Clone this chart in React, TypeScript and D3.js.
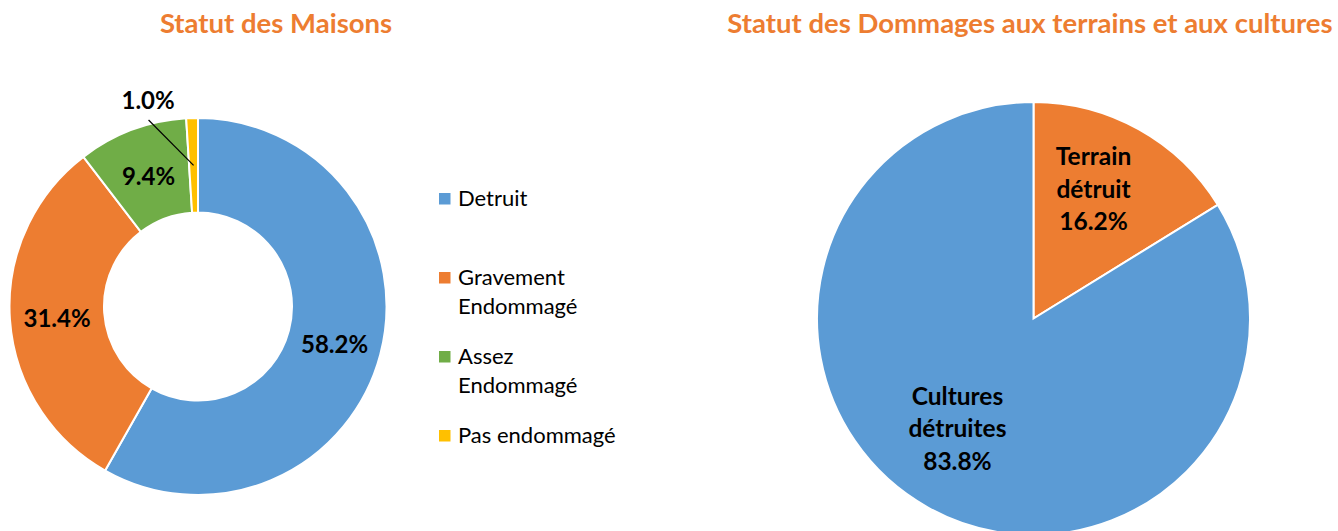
import React from "react";
import * as d3 from "d3";

const houseCategories = ["Detruit", "Gravement Endommagé", "Assez Endommagé", "Pas endommagé"];
const houseValues = [58.2, 31.4, 9.4, 1.0];
const houseColors = ["#5B9BD5", "#ED7D31", "#70AD47", "#FFC000"];
const legendLines = [["Detruit"], ["Gravement", "Endommagé"], ["Assez", "Endommagé"], ["Pas endommagé"]];

const landCategories = [["Terrain", "détruit"], ["Cultures", "détruites"]];
const landValues = [16.2, 83.8];
const landColors = ["#ED7D31", "#5B9BD5"];

const FONT = "Lato, 'Open Sans', sans-serif";

export default function App() {
  const W = 1338, H = 531;
  // donut
  const dcx = 198, dcy = 306.5, dR = 188.5, dr = 94;
  const pie = d3.pie<number>().sort(null).value((d) => d);
  const dArcs = pie(houseValues);
  const dArc = d3.arc<d3.PieArcDatum<number>>().innerRadius(dr).outerRadius(dR);
  // pie
  const pcx = 1033.5, pcy = 318.5, pR = 216.5;
  const pArcs = pie(landValues);
  const pArc = d3.arc<d3.PieArcDatum<number>>().innerRadius(0).outerRadius(pR);
  const pLabelArc = d3.arc<d3.PieArcDatum<number>>().innerRadius(pR * 0.65).outerRadius(pR * 0.65);
  const pNudge = [[-8.5, -6.5], [-7.5, -12.5]];

  const legendY = [199, 278, 357, 436];

  return (
    <svg width={W} height={H} style={{ position: "absolute", left: 0, top: 0, background: "#fff" }} fontFamily={FONT}>
      <text x={276} y={33} textAnchor="middle" fontSize={27.5} fontWeight="bold" fill="#ED7D31">Statut des Maisons</text>
      <text x={1030} y={33} textAnchor="middle" fontSize={27.5} fontWeight="bold" fill="#ED7D31">Statut des Dommages aux terrains et aux cultures</text>

      <g transform={`translate(${dcx},${dcy})`}>
        {dArcs.map((a, i) => (
          <path key={i} d={dArc(a) || ""} fill={houseColors[i]} stroke="#fff" strokeWidth={2} />
        ))}
        {dArcs.map((a, i) => {
          const [x, y] = dArc.centroid(a);
          if (i === 3) {
            const lx = x - 45.5, ly = -dR - 9;
            return (
              <g key={i}>
                <line x1={lx + 0.5} y1={ly + 11} x2={x} y2={y} stroke="#000" strokeWidth={1.2} />
                <text x={lx} y={ly} textAnchor="middle" fontSize={24} fontWeight="bold" fill="#000">{houseValues[i].toFixed(1)}%</text>
              </g>
            );
          }
          return (
            <text key={i} x={x} y={y + 10.5} textAnchor="middle" fontSize={24} fontWeight="bold" fill="#000">{houseValues[i].toFixed(1)}%</text>
          );
        })}
      </g>

      <g>
        {houseCategories.map((c, i) => (
          <g key={c} transform={`translate(439,${legendY[i]})`}>
            <rect x={0} y={-6} width={11.5} height={11.5} fill={houseColors[i]} />
            {legendLines[i].map((t, j) => (
              <text key={j} x={19} y={7 + j * 28.5} fontSize={22} fill="#000">{t}</text>
            ))}
          </g>
        ))}
      </g>

      <g transform={`translate(${pcx},${pcy})`}>
        {pArcs.map((a, i) => (
          <path key={i} d={pArc(a) || ""} fill={landColors[i]} stroke="#fff" strokeWidth={2} />
        ))}
        {pArcs.map((a, i) => {
          const [cx0, cy0] = pLabelArc.centroid(a);
          const x = cx0 + pNudge[i][0], y = cy0 + pNudge[i][1];
          const lines = [...landCategories[i], landValues[i].toFixed(1) + "%"];
          return (
            <text key={i} x={x} textAnchor="middle" fontSize={24.5} fontWeight="bold" fill="#000">
              {lines.map((t, j) => (
                <tspan key={j} x={x} y={y + 8.5 + (j - 1) * 32.3}>{t}</tspan>
              ))}
            </text>
          );
        })}
      </g>
    </svg>
  );
}
